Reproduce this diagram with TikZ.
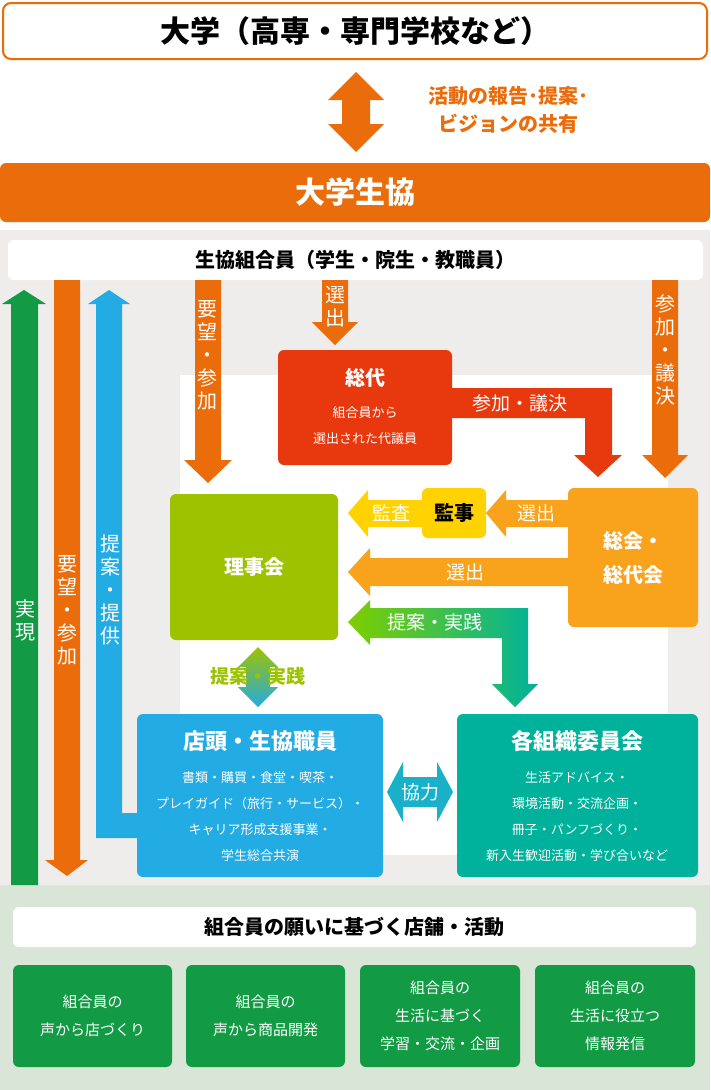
\documentclass[tikz,border=0pt]{standalone}
\usepackage{fontspec}
\setmainfont{Noto Sans CJK JP}
\usetikzlibrary{shapes.arrows}
\definecolor{org}{HTML}{EA6C0A}
\definecolor{red1}{HTML}{E8380D}
\definecolor{lgr}{HTML}{9DC200}
\definecolor{org2}{HTML}{F9A21B}
\definecolor{yel}{HTML}{FFD200}
\definecolor{blu}{HTML}{23ABE3}
\definecolor{teal1}{HTML}{00B29B}
\definecolor{grn}{HTML}{129A45}
\definecolor{bg}{HTML}{EEEDEC}
\definecolor{bgg}{HTML}{D9E5D7}
\definecolor{kyo}{HTML}{1AB0C8}
\tikzset{
 fs/.style={font=\fontsize{#1}{#1}\selectfont},
 box/.style={rounded corners=6pt, draw=none, text=white, align=center},
 wt/.style={text=white, align=center},
}
\begin{document}
\begin{tikzpicture}[x=1pt,y=-1pt]
\useasboundingbox (0,0) rectangle (710,1090);
\fill[white] (0,0) rectangle (710,230);
\fill[bg] (0,230) rectangle (710,885);
\fill[white] (180,375) rectangle (668,855);
\fill[bgg] (0,885) rectangle (710,1090);
% top
\node[draw=org, line width=2pt, rounded corners=8pt, minimum width=704pt, minimum height=56pt, fs=30, font=\bfseries\fontsize{30}{30}\selectfont] (univ) at (355,31) {大学（高専・専門学校など）};
\fill[org] (342,100) -- (342,124) -- (328,124) -- (356,152) -- (384,124) -- (370,124) -- (370,100) -- (384,100) -- (356,72) -- (328,100) -- cycle;
\node[text=org, align=center, font=\bfseries\fontsize{20}{28}\selectfont] (rep) at (508,110) {活動の報告･提案･\\ビジョンの共有};
\node[box, fill=org, minimum width=710pt, minimum height=59pt, font=\bfseries\fontsize{30}{30}\selectfont] (coop) at (355,192.5) {大学生協};
\node[rounded corners=6pt, fill=white, minimum width=695pt, minimum height=40pt, font=\bfseries\fontsize{20}{20}\selectfont] (mem) at (355.5,260) {生協組合員（学生・院生・教職員）};
% left long arrows
\fill[grn] (11,885) -- (11,304) -- (2,304) -- (24,290) -- (46,304) -- (38,304) -- (38,885) -- cycle;
\fill[org] (54,280) -- (80,280) -- (80,860) -- (88,860) -- (67,876) -- (45,860) -- (54,860) -- cycle;
\fill[blu] (96,838) -- (96,304) -- (88,304) -- (109,290) -- (130,304) -- (122,304) -- (122,813) -- (137,813) -- (137,838) -- cycle;
\node[wt, font=\fontsize{20}{23}\selectfont] (jg) at (25,620) {実\\現};
\node[wt, font=\fontsize{20}{23}\selectfont] (yb) at (67,610) {要\\望\\・\\参\\加};
\node[wt, font=\fontsize{20}{23}\selectfont] (tk) at (110,590) {提\\案\\・\\提\\供};
% down arrows from members
\fill[org] (195,280) -- (221,280) -- (221,460) -- (232,460) -- (208,483) -- (184,460) -- (195,460) -- cycle;
\node[wt, font=\fontsize{20}{23}\selectfont] (yb2) at (207,355) {要\\望\\・\\参\\加};
\fill[org] (322,280) -- (348,280) -- (348,322) -- (358,322) -- (335,345) -- (312,322) -- (322,322) -- cycle;
\node[wt, font=\fontsize{20}{23}\selectfont] (se1) at (335,307) {選\\出};
\fill[org] (652,280) -- (678,280) -- (678,455) -- (688,455) -- (665,478) -- (642,455) -- (652,455) -- cycle;
\node[wt, font=\fontsize{20}{23}\selectfont] (sg) at (665,350) {参\\加\\・\\議\\決};
% sodai
\node[box, fill=red1, minimum width=174pt, minimum height=115pt] (sodai) at (365,407.5) {};
\node[wt, font=\bfseries\fontsize{20}{20}\selectfont] at (365,378) {総代};
\node[wt, font=\fontsize{13}{26}\selectfont] at (365,426) {組合員から\\選出された代議員};
\fill[red1] (452,388) -- (612,388) -- (612,455) -- (622,455) -- (598,477) -- (574,455) -- (585,455) -- (585,418) -- (452,418) -- cycle;
\node[wt, font=\fontsize{19}{19}\selectfont] (sgk) at (520,403) {参加・議決};
% main boxes
\node[box, fill=lgr, minimum width=168pt, minimum height=146pt, font=\bfseries\fontsize{20}{20}\selectfont] (riji) at (254,567) {理事会};
\node[box, fill=org2, minimum width=130pt, minimum height=139pt, font=\bfseries\fontsize{20}{34}\selectfont] (sokai) at (633,557.5) {総会・\\総代会};
\node[box, fill=yel, text=black, minimum width=64pt, minimum height=50pt, font=\bfseries\fontsize{20}{20}\selectfont] (kanji) at (454,513) {監事};
\fill[yel] (422,500) -- (368,500) -- (368,490) -- (348,513) -- (368,537) -- (368,527) -- (422,527) -- cycle;
\node[wt, font=\fontsize{19}{19}\selectfont] (kns) at (391,513) {監査};
\fill[org2] (568,500) -- (506,500) -- (506,490) -- (486,513) -- (506,537) -- (506,527) -- (568,527) -- cycle;
\node[wt, font=\fontsize{19}{19}\selectfont] (se2) at (536,513) {選出};
\fill[org2] (568,558) -- (370,558) -- (370,548) -- (348,572) -- (370,596) -- (370,586) -- (568,586) -- cycle;
\node[wt, font=\fontsize{19}{19}\selectfont] (se3) at (465,572) {選出};
\shade[left color=lgr!80!green, right color=teal1] (348,622) -- (370,600) -- (370,608) -- (528,608) -- (528,684) -- (538,684) -- (515,707) -- (492,684) -- (502,684) -- (502,638) -- (370,638) -- (370,645) -- cycle;
\node[wt, font=\fontsize{19}{19}\selectfont] (tj) at (435,622) {提案・実践};
\shade[top color=lgr, bottom color=blu] (258,647) -- (278,667) -- (270,667) -- (270,687) -- (278,687) -- (258,707) -- (238,687) -- (246,687) -- (246,667) -- (238,667) -- cycle;
\node[text=lgr, font=\bfseries\fontsize{19}{19}\selectfont] (tj2) at (258,676) {提案・実践};
% lower boxes
\node[box, fill=blu, minimum width=246pt, minimum height=163pt] (tento) at (260,795.5) {};
\node[wt, font=\bfseries\fontsize{22}{22}\selectfont] at (260,741) {店頭・生協職員};
\node[wt, font=\fontsize{13}{26}\selectfont] at (260,817) {書類・購買・食堂・喫茶・\\プレイガイド（旅行・サービス）・\\キャリア形成支援事業・\\学生総合共演};
\node[box, fill=teal1, minimum width=241pt, minimum height=163pt] (soshiki) at (577.5,795.5) {};
\node[wt, font=\bfseries\fontsize{22}{22}\selectfont] at (577,741) {各組織委員会};
\node[wt, font=\fontsize{13}{26}\selectfont] at (577,817) {生活アドバイス・\\環境活動・交流企画・\\冊子・パンフづくり・\\新入生歓迎活動・学び合いなど};
\fill[kyo] (387,792) -- (403,762) -- (403,777) -- (437,777) -- (437,762) -- (453,792) -- (437,822) -- (437,807) -- (403,807) -- (403,822) -- cycle;
\node[wt, font=\fontsize{19}{19}\selectfont] (kr) at (420,792) {協力};
% bottom
\node[rounded corners=6pt, fill=white, minimum width=683pt, minimum height=40pt, font=\bfseries\fontsize{20}{20}\selectfont] (base) at (354.5,927) {組合員の願いに基づく店舗・活動};
\tikzset{gb/.style={box, fill=grn, minimum width=159pt, minimum height=102pt, font=\fontsize{15}{28}\selectfont}}
\node[gb] (b1) at (92.5,1016) {組合員の\\声から店づくり};
\node[gb] (b2) at (265.5,1016) {組合員の\\声から商品開発};
\node[gb, minimum width=160pt] (b3) at (440,1016) {組合員の\\生活に基づく\\学習・交流・企画};
\node[gb, minimum width=160pt] (b4) at (615,1016) {組合員の\\生活に役立つ\\情報発信};
\end{tikzpicture}
\end{document}
